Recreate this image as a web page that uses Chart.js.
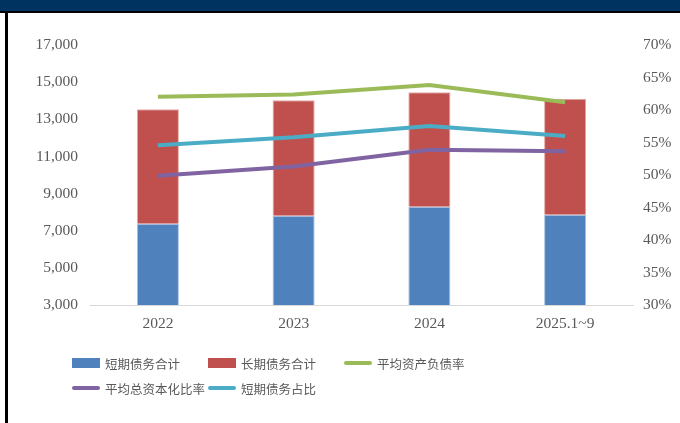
<!DOCTYPE html>
<html>
<head>
<meta charset="utf-8">
<script src="https://cdn.jsdelivr.net/npm/chart.js@4"></script>
<style>
  body { margin: 0; background: #fff; }
  #wrap { position: relative; width: 680px; height: 423px; overflow: hidden; }
  #band { position: absolute; left: 0; top: 0; width: 680px; height: 11px; background: #00335f; }
  #bandLine { position: absolute; left: 0; top: 11px; width: 680px; height: 2px; background: #000; }
  #leftLine { position: absolute; left: 5px; top: 11px; width: 3px; height: 412px; background: #000; }
  #myChart { position: absolute; left: 0; top: 0; }
  #legend { position: absolute; left: 72px; top: 352px; width: 420px;
    font-family: "Noto Sans CJK SC", sans-serif; font-size: 12.5px; color: #595959; }
  .item { position: absolute; display: flex; align-items: center; height: 22px; white-space: nowrap; }
  .mark { width: 28px; margin-right: 5px; }
</style>
</head>
<body>
<div id="wrap">
  <div id="band"></div>
  <div id="bandLine"></div>
  <div id="leftLine"></div>
  <canvas id="myChart" width="680" height="423"></canvas>
  <div id="legend"></div>
</div>
<script>
'use strict'

// data
const labels = ['2022', '2023', '2024', '2025.1~9'];
const shortDebt = [7380, 7810, 8290, 7860];
const longDebt = [6160, 6210, 6160, 6250];
const assetLiabRatio = [62.05, 62.4, 63.85, 61.2];
const capitalRatio = [49.9, 51.3, 53.9, 53.65];
const shortShare = [54.57, 55.8, 57.54, 56.0];
const leftTicks = [3000, 17000, 2000];
const rightTicks = [30, 70, 5];

const tickFont = { family: 'Liberation Serif', size: 15.5 };
const tickColor = '#595959';

const data = {
  labels: labels,
  datasets: [
    { type: 'bar', label: '短期债务合计', data: shortDebt, yAxisID: 'y',
      backgroundColor: '#4f81bd', borderColor: '#a9c1e0', borderWidth: 1, order: 2,
      barPercentage: 0.31, categoryPercentage: 1 },
    { type: 'bar', label: '长期债务合计', data: longDebt, yAxisID: 'y',
      backgroundColor: '#c0504d', borderColor: '#e3a9a7', borderWidth: 1, order: 2,
      barPercentage: 0.31, categoryPercentage: 1 },
    { type: 'line', label: '平均资产负债率', data: assetLiabRatio, yAxisID: 'y1',
      borderColor: '#9bbb59', borderWidth: 4, pointRadius: 0, order: 1 },
    { type: 'line', label: '平均总资本化比率', data: capitalRatio, yAxisID: 'y1',
      borderColor: '#8064a2', borderWidth: 4, pointRadius: 0, order: 1 },
    { type: 'line', label: '短期债务占比', data: shortShare, yAxisID: 'y1',
      borderColor: '#4bacc6', borderWidth: 4, pointRadius: 0, order: 1 }
  ]
};

const config = {
  data: data,
  options: {
    responsive: false,
    animation: false,
    layout: { padding: { top: 45, left: 0, right: 0, bottom: 78 } },
    plugins: { legend: { display: false }, tooltip: { enabled: false } },
    scales: {
      x: {
        stacked: true,
        grid: { display: false, drawTicks: false },
        border: { display: true, color: '#d9d9d9', width: 1 },
        ticks: { font: tickFont, color: tickColor, padding: 10 },
        afterFit: function (s) { s.height = 40; }
      },
      y: {
        position: 'left',
        stacked: true,
        min: leftTicks[0], max: leftTicks[1],
        grid: { display: false, drawTicks: false },
        border: { display: false },
        ticks: { stepSize: leftTicks[2], font: tickFont, color: tickColor, padding: 12,
          callback: function (v) { return v.toLocaleString('en-US'); } },
        afterFit: function (s) { s.width = 90; }
      },
      y1: {
        position: 'right',
        min: rightTicks[0], max: rightTicks[1],
        grid: { display: false, drawTicks: false },
        border: { display: false },
        ticks: { stepSize: rightTicks[2], font: tickFont, color: tickColor, padding: 10,
          callback: function (v) { return v + '%'; } },
        afterFit: function (s) { s.width = 47; }
      }
    }
  }
};

let renderChart = new Chart(document.getElementById('myChart'), config);

// legend in a 3-column grid, like the original
function makeLegend(chart) {
  let box = document.getElementById('legend');
  chart.data.datasets.forEach(function (ds, i) {
    let item = document.createElement('div');
    item.className = 'item';
    item.style.left = (i % 3) * 136 + 'px';
    item.style.top = Math.floor(i / 3) * 25 + 'px';
    let mark = document.createElement('span');
    mark.className = 'mark';
    if (ds.type === 'bar') {
      mark.style.height = '10px';
      mark.style.background = ds.backgroundColor;
    } else {
      mark.style.height = '4px';
      mark.style.borderRadius = '2px';
      mark.style.background = ds.borderColor;
    }
    let txt = document.createElement('span');
    txt.textContent = ds.label;
    item.appendChild(mark);
    item.appendChild(txt);
    box.appendChild(item);
  });
}
makeLegend(renderChart);
</script>
</body>
</html>
